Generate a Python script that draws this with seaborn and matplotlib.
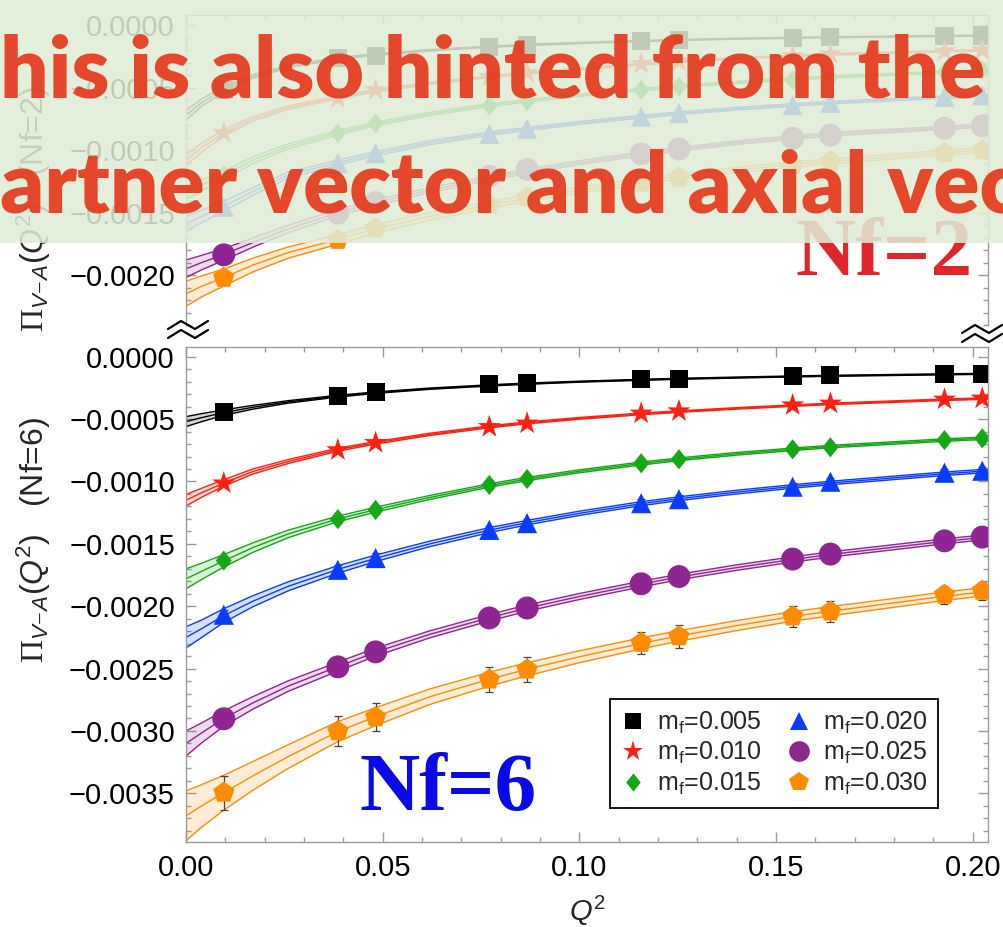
import numpy as np
import matplotlib
matplotlib.use("Agg")
import matplotlib.pyplot as plt
import seaborn as sns
from matplotlib.lines import Line2D
from matplotlib.patches import Rectangle
from matplotlib.path import Path
from matplotlib.ticker import MultipleLocator, FuncFormatter, NullFormatter

# ---------------------------------------------------------------- data
q2 = [0.0096, 0.0386, 0.0482, 0.0771, 0.0867, 0.1157, 0.1253, 0.1542, 0.1638, 0.1928, 0.2024]
fit_q2 = [0.0, 0.004, 0.0096, 0.017, 0.026, 0.0386, 0.0482, 0.062, 0.0771, 0.0867,
          0.1, 0.1157, 0.1253, 0.14, 0.1542, 0.1638, 0.1928, 0.2040]
mass_labels = ["0.005", "0.010", "0.015", "0.020", "0.025", "0.030"]

# Nf=6 lattice points
pts6_005 = [-0.000446, -0.000314, -0.000286, -0.000222, -0.000214, -0.000182, -0.000178, -0.000156, -0.000150, -0.000142, -0.000140]
pts6_010 = [-0.001014, -0.000748, -0.000690, -0.000562, -0.000534, -0.000454, -0.000436, -0.000388, -0.000374, -0.000342, -0.000334]
pts6_015 = [-0.001634, -0.001302, -0.001228, -0.001028, -0.000980, -0.000854, -0.000822, -0.000742, -0.000726, -0.000668, -0.000654]
pts6_020 = [-0.002068, -0.001708, -0.001614, -0.001388, -0.001334, -0.001174, -0.001142, -0.001042, -0.001002, -0.000930, -0.000914]
pts6_025 = [-0.002902, -0.002486, -0.002366, -0.002094, -0.002014, -0.001820, -0.001762, -0.001622, -0.001582, -0.001476, -0.001446]
pts6_030 = [-0.003494, -0.003002, -0.002890, -0.002588, -0.002508, -0.002294, -0.002242, -0.002082, -0.002042, -0.001908, -0.001876]

err6_005 = [0.00001] * 11
err6_010 = [0.00002] * 11
err6_015 = [0.00003] * 11
err6_020 = [0.00004, 0.00004, 0.00004, 0.00003, 0.00003, 0.00003, 0.00003, 0.00003, 0.00003, 0.00003, 0.00003]
err6_025 = [0.00006, 0.00005, 0.00005, 0.00005, 0.00005, 0.00004, 0.00004, 0.00004, 0.00004, 0.00004, 0.00004]
err6_030 = [0.000136, 0.000120, 0.000113, 0.000100, 0.000100, 0.000090, 0.000090, 0.000083, 0.000083, 0.000072, 0.000072]

# Nf=6 fit curves (central value) and half width of the error band
fit6_005 = [-0.000520, -0.000488, -0.000448, -0.000405, -0.000362, -0.000316, -0.000288, -0.000256, -0.000230, -0.000216,
            -0.000200, -0.000185, -0.000177, -0.000167, -0.000158, -0.000153, -0.000141, -0.000137]
band6_005 = [0.000040, 0.000032, 0.000022, 0.000015, 0.000010, 0.000007, 0.000006, 0.000005, 0.000005, 0.000005,
             0.000004, 0.000004, 0.000004, 0.000004, 0.000004, 0.000004, 0.000004, 0.000004]
fit6_010 = [-0.001150, -0.001090, -0.001012, -0.000920, -0.000840, -0.000745, -0.000690, -0.000622, -0.000562, -0.000530,
            -0.000494, -0.000458, -0.000440, -0.000414, -0.000392, -0.000378, -0.000345, -0.000334]
band6_010 = [0.000046, 0.000036, 0.000026, 0.000020, 0.000016, 0.000012, 0.000010, 0.000009, 0.000008, 0.000008,
             0.000007, 0.000007, 0.000006, 0.000006, 0.000006, 0.000006, 0.000006, 0.000006]
fit6_015 = [-0.001780, -0.001720, -0.001636, -0.001530, -0.001420, -0.001300, -0.001226, -0.001128, -0.001032, -0.000980,
            -0.000918, -0.000856, -0.000822, -0.000778, -0.000742, -0.000720, -0.000668, -0.000652]
band6_015 = [0.000080, 0.000065, 0.000050, 0.000038, 0.000030, 0.000022, 0.000020, 0.000016, 0.000014, 0.000013,
             0.000012, 0.000012, 0.000011, 0.000011, 0.000010, 0.000010, 0.000010, 0.000010]
fit6_020 = [-0.002250, -0.002180, -0.002075, -0.001960, -0.001840, -0.001705, -0.001616, -0.001500, -0.001390, -0.001330,
            -0.001255, -0.001178, -0.001138, -0.001085, -0.001040, -0.001012, -0.000938, -0.000914]
band6_020 = [0.000085, 0.000070, 0.000055, 0.000044, 0.000036, 0.000030, 0.000026, 0.000022, 0.000020, 0.000018,
             0.000017, 0.000016, 0.000015, 0.000015, 0.000014, 0.000014, 0.000014, 0.000014]
fit6_025 = [-0.003100, -0.003015, -0.002900, -0.002775, -0.002640, -0.002484, -0.002368, -0.002225, -0.002092, -0.002015,
            -0.001922, -0.001822, -0.001766, -0.001690, -0.001625, -0.001585, -0.001480, -0.001444]
band6_025 = [0.000100, 0.000080, 0.000062, 0.000050, 0.000042, 0.000036, 0.000032, 0.000028, 0.000026, 0.000025,
             0.000024, 0.000023, 0.000022, 0.000022, 0.000021, 0.000021, 0.000020, 0.000020]
fit6_030 = [-0.003680, -0.003600, -0.003495, -0.003360, -0.003205, -0.003005, -0.002885, -0.002725, -0.002585, -0.002505,
            -0.002405, -0.002298, -0.002238, -0.002155, -0.002082, -0.002040, -0.001920, -0.001880]
band6_030 = [0.000200, 0.000170, 0.000140, 0.000115, 0.000095, 0.000080, 0.000072, 0.000062, 0.000056, 0.000052,
             0.000048, 0.000044, 0.000042, 0.000040, 0.000038, 0.000037, 0.000034, 0.000033]

# Nf=2 lattice points
pts2_005 = [-0.000520, -0.000264, -0.000245, -0.000171, -0.000157, -0.000124, -0.000116, -0.000100, -0.000096, -0.000086, -0.000082]
pts2_010 = [-0.000862, -0.000584, -0.000518, -0.000411, -0.000381, -0.000309, -0.000288, -0.000245, -0.000232, -0.000208, -0.000200]
pts2_015 = [-0.001200, -0.000864, -0.000784, -0.000645, -0.000608, -0.000518, -0.000490, -0.000440, -0.000420, -0.000375, -0.000360]
pts2_020 = [-0.001453, -0.001104, -0.001024, -0.000870, -0.000828, -0.000731, -0.000703, -0.000640, -0.000620, -0.000573, -0.000560]
pts2_025 = [-0.001838, -0.001504, -0.001420, -0.001210, -0.001155, -0.001030, -0.000990, -0.000905, -0.000880, -0.000825, -0.000805]
pts2_030 = [-0.002022, -0.001718, -0.001625, -0.001438, -0.001380, -0.001260, -0.001220, -0.001120, -0.001090, -0.001024, -0.001002]

# Nf=2 fit curves and band half widths
fit2_005 = [-0.000720, -0.000620, -0.000510, -0.000410, -0.000330, -0.000265, -0.000235, -0.000200, -0.000172, -0.000158,
            -0.000142, -0.000126, -0.000118, -0.000108, -0.000100, -0.000096, -0.000086, -0.000082]
band2_005 = [0.000040, 0.000030, 0.000020, 0.000014, 0.000010, 0.000008, 0.000007, 0.000006, 0.000005, 0.000005,
             0.000005, 0.000005, 0.000004, 0.000004, 0.000004, 0.000004, 0.000004, 0.000004]
fit2_010 = [-0.001080, -0.000980, -0.000860, -0.000750, -0.000660, -0.000578, -0.000525, -0.000465, -0.000412, -0.000384,
            -0.000350, -0.000312, -0.000292, -0.000265, -0.000245, -0.000233, -0.000208, -0.000200]
band2_010 = [0.000045, 0.000035, 0.000025, 0.000018, 0.000014, 0.000011, 0.000010, 0.000009, 0.000008, 0.000008,
             0.000007, 0.000007, 0.000006, 0.000006, 0.000006, 0.000006, 0.000006, 0.000006]
fit2_015 = [-0.001340, -0.001280, -0.001200, -0.001080, -0.000970, -0.000860, -0.000790, -0.000710, -0.000640, -0.000605,
            -0.000560, -0.000515, -0.000490, -0.000458, -0.000430, -0.000414, -0.000375, -0.000360]
band2_015 = [0.000055, 0.000045, 0.000035, 0.000027, 0.000021, 0.000017, 0.000015, 0.000013, 0.000012, 0.000011,
             0.000010, 0.000010, 0.000009, 0.000009, 0.000009, 0.000009, 0.000008, 0.000008]
fit2_020 = [-0.001590, -0.001530, -0.001450, -0.001330, -0.001200, -0.001100, -0.001028, -0.000940, -0.000868, -0.000830,
            -0.000782, -0.000732, -0.000705, -0.000668, -0.000638, -0.000620, -0.000575, -0.000560]
band2_020 = [0.000060, 0.000050, 0.000040, 0.000031, 0.000025, 0.000020, 0.000018, 0.000016, 0.000014, 0.000013,
             0.000012, 0.000012, 0.000011, 0.000011, 0.000011, 0.000010, 0.000010, 0.000010]
fit2_025 = [-0.001950, -0.001900, -0.001835, -0.001740, -0.001630, -0.001500, -0.001420, -0.001320, -0.001225, -0.001170,
            -0.001100, -0.001030, -0.000992, -0.000940, -0.000898, -0.000872, -0.000822, -0.000800]
band2_025 = [0.000070, 0.000058, 0.000046, 0.000037, 0.000030, 0.000025, 0.000022, 0.000020, 0.000018, 0.000017,
             0.000016, 0.000015, 0.000015, 0.000014, 0.000014, 0.000014, 0.000013, 0.000013]
fit2_030 = [-0.002150, -0.002090, -0.002020, -0.001920, -0.001820, -0.001715, -0.001630, -0.001530, -0.001440, -0.001385,
            -0.001320, -0.001250, -0.001210, -0.001160, -0.001115, -0.001090, -0.001020, -0.000998]
band2_030 = [0.000100, 0.000084, 0.000068, 0.000055, 0.000045, 0.000038, 0.000034, 0.000030, 0.000027, 0.000025,
             0.000024, 0.000023, 0.000022, 0.000021, 0.000021, 0.000020, 0.000019, 0.000019]

# ---------------------------------------------------------------- style
sns.set_theme(style="ticks")
plt.rcParams["font.family"] = ["Liberation Sans", "DejaVu Sans"]
plt.rcParams["mathtext.fontset"] = "custom"
plt.rcParams["mathtext.rm"] = "Liberation Serif"
plt.rcParams["mathtext.it"] = "Liberation Sans:italic"
plt.rcParams["mathtext.sf"] = "Liberation Sans"
plt.rcParams["mathtext.bf"] = "Liberation Sans:bold"
plt.rcParams["axes.unicode_minus"] = True

W, H = 1004, 927
fig = plt.figure(figsize=(W / 100, H / 100), dpi=100)
fig.patch.set_facecolor("white")


def fx(px):
    return px / W


def fy(py):
    return 1 - py / H


colors = ["#000000", "#ff2010", "#14a814", "#0a3cff", "#8e2590", "#ff8c00"]
diamond = Path([(0, 1), (0.8, 0), (0, -1), (-0.8, 0), (0, 1)],
               [Path.MOVETO, Path.LINETO, Path.LINETO, Path.LINETO, Path.CLOSEPOLY])
markers = ["s", "*", diamond, "^", "o", "p"]
msizes = [13, 17.5, 14.5, 14.5, 16.5, 16]

spine_col = "#9a9a9a"
tick_fmt = FuncFormatter(lambda v, p: ("%.4f" % (0.0 if abs(v) < 1e-12 else v)).replace("-", "\u2212"))
x_fmt = FuncFormatter(lambda v, p: "%.2f" % v)


def frame(ax, bottom=True):
    ax.set_facecolor("white")
    for s in ax.spines.values():
        s.set_color(spine_col)
        s.set_linewidth(1.0)
    ax.set_xlim(0.0, 0.20386)
    ax.xaxis.set_major_locator(MultipleLocator(0.05))
    ax.xaxis.set_minor_locator(MultipleLocator(0.01))
    ax.yaxis.set_major_locator(MultipleLocator(0.0005))
    ax.yaxis.set_minor_locator(MultipleLocator(0.0001))
    ax.yaxis.set_major_formatter(tick_fmt)
    ax.tick_params(which="both", direction="in", color=spine_col, width=1.0,
                   top=True, right=True, bottom=bottom, left=True, labelsize=21, labelcolor="black")
    ax.tick_params(which="major", length=7)
    ax.tick_params(which="minor", length=3.5)
    ax.tick_params(axis="y", pad=8)
    ax.tick_params(axis="x", pad=9)
    if bottom:
        ax.xaxis.set_major_formatter(x_fmt)
    else:
        ax.spines["bottom"].set_visible(False)
        ax.xaxis.set_major_formatter(NullFormatter())


def draw_series(ax, fit, band, pts, errs, color, marker, ms):
    c = np.asarray(fit)
    b = np.asarray(band)
    ax.fill_between(fit_q2, c - b, c + b, color=color, alpha=0.16, lw=0, zorder=1)
    for yy in (c - b, c, c + b):
        sns.lineplot(x=fit_q2, y=yy, color=color, lw=1.0, ax=ax, estimator=None, sort=False, zorder=2)
    if errs is not None:
        ax.errorbar(q2, pts, yerr=errs, fmt="none", ecolor="#444444", elinewidth=0.9,
                    capsize=3, capthick=0.9, zorder=3)
    sns.scatterplot(x=q2, y=pts, marker=marker, s=ms ** 2, color=color, edgecolor="none",
                    linewidth=0, ax=ax, zorder=4)


# ---------------------------------------------------------------- Nf=6 panel
ax6 = fig.add_axes([fx(186), fy(842), (988 - 186) / W, (842 - 347) / H])
frame(ax6, bottom=True)
ax6.set_ylim(-0.00389, 0.000078)
nf6 = [(fit6_005, band6_005, pts6_005, err6_005), (fit6_010, band6_010, pts6_010, err6_010),
       (fit6_015, band6_015, pts6_015, err6_015), (fit6_020, band6_020, pts6_020, err6_020),
       (fit6_025, band6_025, pts6_025, err6_025), (fit6_030, band6_030, pts6_030, err6_030)]
for (f, b, p, e), c, m, ms in zip(nf6, colors, markers, msizes):
    draw_series(ax6, f, b, p, e, c, m, ms)
ax6.set_xlabel(r"$Q^{\mathsf{2}}$", fontsize=21)
ax6.xaxis.set_label_coords(0.5, -0.105)
ax6.set_ylabel(r"$\Pi_{V\!-\!A}$($Q^{\mathsf{2}}$)   (Nf=6)", fontsize=23)
ax6.yaxis.set_label_coords(-0.166, 0.61)

handles = [Line2D([], [], ls="none", marker=m, color=c, markersize=ms * 0.9, markeredgewidth=0)
           for m, c, ms in zip(markers, colors, msizes)]
labels = [r"m$_\mathregular{f}$=" + v for v in mass_labels]
leg = ax6.legend(handles, labels, ncol=2, loc="upper left",
                 bbox_to_anchor=((610 - 186) / 802, (842 - 699) / 495), borderaxespad=0,
                 fontsize=18, frameon=True, fancybox=False, framealpha=1, edgecolor="black",
                 handlelength=1.0, handletextpad=0.45, columnspacing=1.0, labelspacing=0.18,
                 borderpad=0.42)
leg.get_frame().set_linewidth(1.3)

# ---------------------------------------------------------------- Nf=2 panel
ax2 = fig.add_axes([fx(186), fy(325), (988 - 186) / W, (325 - 15) / H])
frame(ax2, bottom=False)
ax2.set_ylim(-0.0024, 0.000082)
nf2 = [(fit2_005, band2_005, pts2_005), (fit2_010, band2_010, pts2_010),
       (fit2_015, band2_015, pts2_015), (fit2_020, band2_020, pts2_020),
       (fit2_025, band2_025, pts2_025), (fit2_030, band2_030, pts2_030)]
for (f, b, p), c, m, ms in zip(nf2, colors, markers, msizes):
    draw_series(ax2, f, b, p, None, c, m, ms)
ax2.set_ylabel(r"$\Pi_{V\!-\!A}$($Q^{\mathsf{2}}$)   (Nf=2)", fontsize=23)
ax2.yaxis.set_label_coords(-0.166, 0.375)

# panel tags
fig.text(fx(448), fy(810), "Nf=6", family="Liberation Serif", fontweight="bold", fontsize=60,
         color="#0a0ae8", ha="center", va="baseline", zorder=5)
fig.text(fx(884), fy(275), "Nf=2", family="Liberation Serif", fontweight="bold", fontsize=60,
         color="#e0262b", ha="center", va="baseline", zorder=5)

# axis-break marks between the panels
for cx, cy in [(188, 326), (982, 330)]:
    for dy in (0, 9):
        xs = [cx - 20, cx - 7, cx + 7, cx + 20]
        ys = [cy + dy + 3, cy + dy - 5, cy + dy + 3, cy + dy - 5]
        fig.add_artist(Line2D([fx(v) for v in xs], [fy(v) for v in ys], color="black",
                              lw=1.6, zorder=6))

# ---------------------------------------------------------------- caption banner
fig.add_artist(Rectangle((0, fy(243)), 1, 243 / H, transform=fig.transFigure,
                         facecolor="#e0edd6", edgecolor="none", alpha=0.86, zorder=10))

banner_font = ["Lato", "DejaVu Sans"]
line1 = "This is also hinted from the"
line2 = "partner vector and axial vector"
renderer = fig.canvas.get_renderer()


def text_width(s, fs):
    t = fig.text(0, 0.5, s, fontsize=fs, fontweight="heavy", family=banner_font)
    w = t.get_window_extent(renderer).width
    t.remove()
    return w


fs_b = 40 * 985 / text_width(line1[1:], 40)
off1 = text_width(line1, fs_b) - text_width(line1[1:], fs_b)
off2 = text_width(line2, fs_b) - text_width(line2[1:], fs_b)
fig.text(-off1 / W, fy(97), line1, fontsize=fs_b, fontweight="heavy", family=banner_font,
         color="#e43a1c", alpha=0.93, ha="left", va="baseline", zorder=11)
fig.text(-off2 / W, fy(213), line2, fontsize=fs_b, fontweight="heavy", family=banner_font,
         color="#e43a1c", alpha=0.93, ha="left", va="baseline", zorder=11)

fig.savefig("out.png", dpi=100)
